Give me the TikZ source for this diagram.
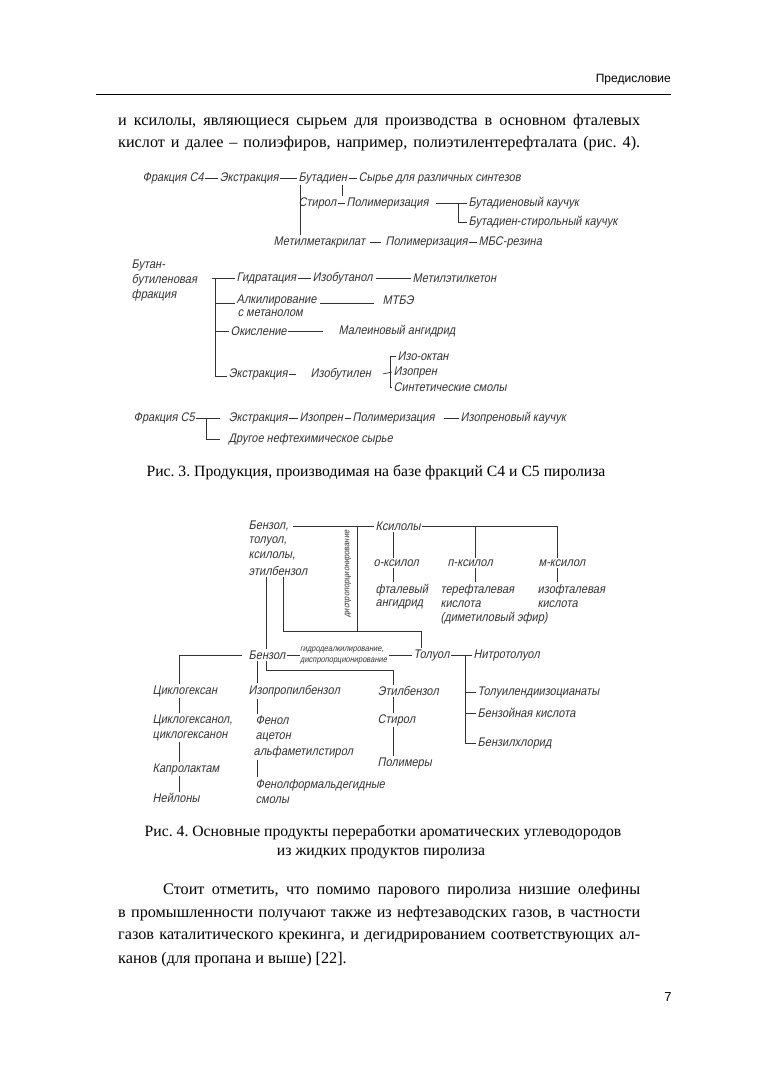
\documentclass[tikz,border=0pt]{standalone}
\usepackage{fontspec}
\setmainfont{Liberation Serif}
\newfontfamily\gost[FakeSlant=0.2,FakeStretch=0.88]{Liberation Sans}
\newfontfamily\hdr{Liberation Sans}
\frenchspacing
\tikzset{
 lbl/.style={font=\gost\fontsize{12.5}{14}\selectfont, inner sep=1.5pt, anchor=west, text=black!80},
 smlbl/.style={font=\gost\fontsize{8.5}{10}\selectfont, inner sep=1pt, anchor=west, text=black!80},
 ln/.style={line width=0.7pt, black!80},
 body/.style={font=\fontsize{16.2}{22}\selectfont, inner sep=0pt, anchor=west},
 capt/.style={font=\fontsize{15.7}{17}\selectfont, inner sep=0pt},
}
\begin{document}
\begin{tikzpicture}[x=1pt,y=-1pt]
\useasboundingbox (0,0) rectangle (763,1080);
% header
\node[font=\hdr\fontsize{12}{14}\selectfont, anchor=east, inner sep=0pt] (hd) at (671,80) {Предисловие};
\coordinate (rl) at (96,94);
\coordinate (rr) at (671,94);
\draw[line width=0.8pt] (rl) -- (rr);
% paragraph 1
\node[body] (p1) at (118,122) {\makebox[522pt][s]{и ксилолы, являющиеся сырьем для производства в основном фталевых}};
\node[body] (p2) at (118,144) {\makebox[522pt][s]{кислот и далее – полиэфиров, например, полиэтилентерефталата (рис.~4).}};

% ===== Fig 3 =====
\node[lbl] (f4) at (141,178) {Фракция С4};
\node[lbl] (ex1) at (218,178) {Экстракция};
\node[lbl] (bd) at (297,178) {Бутадиен};
\node[lbl] (syr) at (357,178) {Сырье для различных синтезов};
\draw[ln] (f4.east) -- (ex1.west);
\draw[ln] (ex1.east) -- (bd.west);
\draw[ln] (bd.east) -- (syr.west);
\node[lbl] (st) at (297,203) {Стирол};
\node[lbl] (pol1) at (345,203) {Полимеризация};
\node[lbl] (bdk) at (467,203) {Бутадиеновый каучук};
\node[lbl] (bsk) at (467,222) {Бутадиен-стирольный каучук};
\draw[ln] (st.east) -- (pol1.west);
\coordinate (vB) at (342,196);
\draw[ln] (bd.south -| vB) -- (vB);
\coordinate (vC) at (458,0);
\draw[ln] ([xshift=6pt]pol1.east) -- (bdk.west);
\draw[ln] (bdk.west -| vC) |- (bsk.west);
\node[lbl] (mma) at (272,242) {Метилметакрилат};
\node[lbl] (pol2) at (384,242) {Полимеризация};
\node[lbl] (mbs) at (477,242) {МБС-резина};
\coordinate (vA) at (300,0);
\draw[ln] (bd.south -| vA) -- (mma.north -| vA);
\draw[ln] ([xshift=3pt]mma.east) -- ([xshift=-3pt]pol2.west);
\draw[ln] (pol2.east) -- (mbs.west);

\node[lbl, anchor=north west, align=left, font=\gost\fontsize{12.5}{15}\selectfont] (bbf) at (130,258) {Бутан-\\бутиленовая\\фракция};
\coordinate (vD) at (215,0);
\node[lbl] (hyd) at (235,278) {Гидратация};
\node[lbl] (izb) at (311,278) {Изобутанол};
\node[lbl] (mek) at (411,278) {Метилэтилкетон};
\draw[ln] ([xshift=-23pt]hyd.west) -- (hyd.west);
\draw[ln] (hyd.east) -- (izb.west);
\draw[ln] ([xshift=2pt]izb.east) -- (mek.west);
\node[lbl] (alk) at (235,300) {Алкилирование};
\node[lbl] (alk2) at (236,313) {с метанолом};
\node[lbl] (mtbe) at (381,300) {МТБЭ};
\draw[ln] ([yshift=-3pt]alk.west -| vD) -- ([yshift=-3pt]alk.west);
\draw[ln] ([yshift=-3pt,xshift=2pt]alk.east) -- ([yshift=-3pt,xshift=-7pt]mtbe.west);
\node[lbl] (oks) at (229,331) {Окисление};
\node[lbl] (mal) at (337,331) {Малеиновый ангидрид};
\draw[ln] (oks.west -| vD) -- (oks.west);
\draw[ln] (oks.east) -- ([xshift=-14pt]mal.west);
\node[lbl] (ex2) at (227,374) {Экстракция};
\node[lbl] (izl) at (309,374) {Изобутилен};
\draw[ln] (hyd.west -| vD) -- ([yshift=-2pt]ex2.west -| vD) -- ([yshift=-2pt]ex2.west);
\draw[ln] (ex2.east) -- ([xshift=-13pt]izl.west);
\node[lbl] (iok) at (396,356) {Изо-октан};
\node[lbl] (izp) at (392,372) {Изопрен};
\node[lbl] (sin) at (392,387) {Синтетические смолы};
\coordinate (vE) at (390,0);
\draw[ln] ([xshift=10pt]izl.east) -- (izp.west);
\draw[ln] (iok.west) -- (iok.west -| vE) -- (sin.west -| vE) -- (sin.west);

\node[lbl] (f5) at (132,418) {Фракция С5};
\node[lbl] (ex3) at (227,418) {Экстракция};
\node[lbl] (izp2) at (298,418) {Изопрен};
\node[lbl] (pol3) at (351,418) {Полимеризация};
\node[lbl] (ikk) at (459,418) {Изопреновый каучук};
\node[lbl] (dr) at (227,439) {Другое нефтехимическое сырье};
\coordinate (vF) at (206,0);
\draw[ln] (f5.east) -- ([xshift=-7pt]ex3.west);
\draw[ln] (f5.east -| vF) |- ([xshift=-7pt]dr.west);
\draw[ln] (ex3.east) -- (izp2.west);
\draw[ln] (izp2.east) -- (pol3.west);
\draw[ln] ([xshift=8pt]pol3.east) -- (ikk.west);

\node[capt] (c3) at (376,473) {Рис. 3. Продукция, производимая на базе фракций С4 и С5 пиролиза};

% ===== Fig 4 =====
\node[lbl] (bz1) at (247,526) {Бензол,};
\node[lbl] (bz2) at (247,541) {толуол,};
\node[lbl] (bz3) at (247,556) {ксилолы,};
\node[lbl] (bz4) at (247,571) {этилбензол};
\node[lbl] (ksl) at (374,526) {Ксилолы};
\coordinate (kE) at (557,526);
\draw[ln] ([xshift=3pt]bz1.east) -- (ksl.west);
\draw[ln] (ksl.east) -- (kE);
\node[lbl] (ok) at (372,563) {о-ксилол};
\node[lbl] (pk) at (446,563) {п-ксилол};
\node[lbl] (mk) at (537,563) {м-ксилол};
\coordinate (xo) at (393,0);
\coordinate (xp) at (475,0);
\coordinate (xm) at (557,0);
\draw[ln] (ksl.south -| xo) -- (ok.north -| xo);
\draw[ln] (ksl.east -| xp) -- (pk.north -| xp);
\draw[ln] (kE) -- (mk.north -| xm);
\node[lbl] (ft1) at (374,590) {фталевый};
\node[lbl] (ft2) at (374,604) {ангидрид};
\node[lbl] (tk1) at (439,590) {терефталевая};
\node[lbl] (tk2) at (439,604) {кислота};
\node[lbl] (tk3) at (439,618) {(диметиловый эфир)};
\node[lbl] (ik1) at (536,590) {изофталевая};
\node[lbl] (ik2) at (536,604) {кислота};
\draw[ln] (ok.south -| xo) -- (ft1.north -| xo);
\draw[ln] (pk.south -| xp) -- (tk1.north -| xp);
\draw[ln] (mk.south -| xm) -- (ik1.north -| xm);
\node[smlbl, rotate=90, anchor=center] (dsp) at (348,574) {диспропорционирование};
\coordinate (xd) at (357,526);
\coordinate (hb) at (421,631);
\coordinate (xe) at (283,0);
\coordinate (xb) at (266,0);
\draw[ln] (xd) -- (xd |- hb);
\node[lbl] (bnz) at (247,655) {Бензол};
\node[smlbl] (gd1) at (299,650) {гидродеалкилирование,};
\node[smlbl] (gd2) at (299,661) {диспропорционирование};
\node[lbl] (tol) at (412,655) {Толуол};
\node[lbl] (ntl) at (472,655) {Нитротолуол};
\draw[ln] (bz4.south -| xe) -- (xe |- hb) -- (hb) -- (tol.north -| hb);
\draw[ln] (bz4.south -| xb) -- (bnz.north -| xb);
\draw[ln] (bnz.east) -- ([xshift=1pt]bnz.east -| gd1.west);
\draw[ln] ([xshift=4pt]bnz.east -| gd1.east) -- (tol.west);
\draw[ln] (tol.east) -- (ntl.west);
\node[lbl] (cg) at (151,691) {Циклогексан};
\node[lbl] (cgl1) at (151,720) {Циклогексанол,};
\node[lbl] (cgl2) at (151,736) {циклогексанон};
\node[lbl] (kpl) at (151,769) {Капролактам};
\node[lbl] (nyl) at (151,798) {Нейлоны};
\coordinate (xc) at (179,0);
\draw[ln] ([xshift=-5pt]bnz.west) -- (bnz.west -| xc) -- (cg.north -| xc);
\draw[ln] (cg.south -| xc) -- (cgl1.north -| xc);
\draw[ln] (cgl2.south -| xc) -- (kpl.north -| xc);
\draw[ln] (kpl.south -| xc) -- (nyl.north -| xc);
\node[lbl] (ipb) at (247,691) {Изопропилбензол};
\node[lbl] (etb) at (376,691) {Этилбензол};
\coordinate (xi) at (257,0);
\coordinate (xt) at (393,670);
\draw[ln] (bnz.south -| xi) -- (ipb.north -| xi);
\draw[ln] (bnz.south -| xb) -- (xb |- xt) -- (xt) -- (etb.north -| xt);
\node[lbl] (fen) at (254,720) {Фенол};
\node[lbl] (act) at (254,737) {ацетон};
\node[lbl] (ams) at (252,752) {альфаметилстирол};
\node[lbl] (ff1) at (254,785) {Фенолформальдегидные};
\node[lbl] (ff2) at (254,800) {смолы};
\draw[ln] (ipb.south -| xi) -- (fen.north -| xi);
\draw[ln] (ams.south -| xi) -- (ff1.north -| xi);
\node[lbl] (sty) at (376,720) {Стирол};
\node[lbl] (plm) at (376,763) {Полимеры};
\draw[ln] (etb.south -| xt) -- (sty.north -| xt);
\draw[ln] (sty.south -| xt) -- (plm.north -| xt);
\node[lbl] (tdi) at (476,692) {Толуилендиизоцианаты};
\node[lbl] (bk) at (476,713) {Бензойная кислота};
\node[lbl] (bh) at (476,743) {Бензилхлорид};
\coordinate (xn) at (465,0);
\draw[ln] (tol.east -| xn) -- (bh.west -| xn) -- (bh.west);
\draw[ln] (tdi.west -| xn) -- (tdi.west);
\draw[ln] (bk.west -| xn) -- (bk.west);

\node[capt] (c4a) at (383,833) {Рис. 4. Основные продукты переработки ароматических углеводородов};
\node[capt] (c4b) at (381,853) {из жидких продуктов пиролиза};

% paragraph 2
\node[body] (q1) at (163,891) {\makebox[477pt][s]{Стоит отметить, что помимо парового пиролиза низшие олефины}};
\node[body] (q2) at (118,914) {\makebox[522pt][s]{в промышленности получают также из нефтезаводских газов, в частности}};
\node[body] (q3) at (118,937) {\makebox[522pt][s]{газов каталитического крекинга, и дегидрированием соответствующих ал-}};
\node[body] (q4) at (118,960) {канов (для пропана и выше) [22].};
\node[font=\hdr\fontsize{13}{15}\selectfont, inner sep=0pt] (pn) at (668,997) {7};
\end{tikzpicture}
\end{document}
